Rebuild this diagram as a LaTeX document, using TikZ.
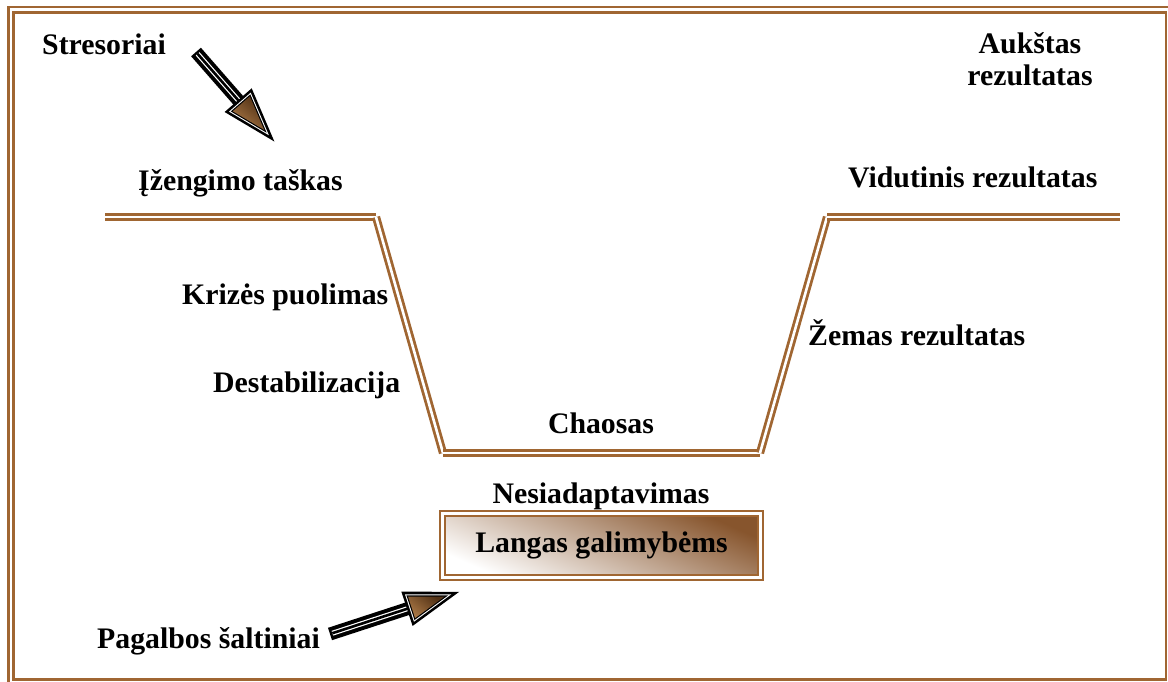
\documentclass[tikz,border=0pt]{standalone}
\usepackage{fontspec}
\setmainfont{Liberation Serif}
\definecolor{frameb}{RGB}{160,102,50}
\definecolor{boxb}{RGB}{135,85,45}
\definecolor{headdark}{RGB}{80,48,20}
\definecolor{headlight}{RGB}{170,120,70}

% Decorated block arrow: #1 = tail coordinate, #2 = direction (deg), #3 = length
\newcommand{\blockarrow}[3]{%
  \begin{scope}[shift={(#1)}, rotate=#2]
    \pgfmathsetmacro{\aL}{#3}
    \pgfmathsetmacro{\aH}{55}
    \pgfmathsetmacro{\aB}{18}
    \pgfmathsetmacro{\aR}{\aB*\aH/(\aB+sqrt(\aH*\aH+\aB*\aB))}
    \pgfmathsetmacro{\aS}{\aL-\aH}
    % shaft: black band with a white rim inside and a dark core
    \fill[black] (0,-6.5) rectangle (\aS+3,6.5);
    \draw[white, line width=5pt] (2.5,0) -- (\aS+2,0);
    \draw[black, line width=2.6pt] (2.5,0) -- (\aS+2,0);
    % head, built from nested triangles
    \fill[black] (\aS,-\aB) -- (\aL,0) -- (\aS,\aB) -- cycle;
    \begin{scope}[shift={(\aS+\aR,0)}, scale=0.80]
      \fill[white] (-\aR,-\aB) -- (\aH-\aR,0) -- (-\aR,\aB) -- cycle;
    \end{scope}
    \begin{scope}[shift={(\aS+\aR,0)}, scale=0.72]
      \fill[black] (-\aR,-\aB) -- (\aH-\aR,0) -- (-\aR,\aB) -- cycle;
    \end{scope}
    \begin{scope}[shift={(\aS+\aR,0)}, scale=0.63]
      \shade[top color=headdark, bottom color=headlight, shading angle=-40]
        (-\aR,-\aB) -- (\aH-\aR,0) -- (-\aR,\aB) -- cycle;
    \end{scope}
  \end{scope}}

\begin{document}
\begin{tikzpicture}[x=1pt, y=-1pt,
    lbl/.style={font=\fontsize{29.8}{32}\selectfont\bfseries, inner sep=0pt},
    dline/.style={draw=frameb, double=white, line width=2.8pt, double distance=2.6pt},
    windowbox/.style={lbl, draw=frameb, double=white, line width=2.2pt, double distance=2.5pt,
      minimum width=318pt, minimum height=64pt,
      top color=boxb, middle color=boxb!10!white, bottom color=white, shading angle=-24}]
  \useasboundingbox (0,0) rectangle (1168,681);

  % outer frame
  \draw[dline] (10.8,9.7) rectangle (1168.7,682.3);

  % the trough curve
  \coordinate (p1) at (105,217);
  \coordinate (p2) at (376,217);
  \coordinate (p3) at (443,453);
  \coordinate (p4) at (760,453);
  \coordinate (p5) at (827,217);
  \coordinate (p6) at (1120,217);
  \draw[dline] (p1) -- (p2);
  \draw[dline] (p2) -- (p3);
  \draw[dline] (p3) -- (p4);
  \draw[dline] (p4) -- (p5);
  \draw[dline] (p5) -- (p6);

  % labels
  \node[lbl, anchor=base west] (stress) at (42,54) {Stresoriai};
  \node[lbl, anchor=base, align=center] (high) at (1030,85) {Aukštas\\rezultatas};
  \node[lbl, anchor=base west] (entry) at (138,190) {Įžengimo taškas};
  \node[lbl, anchor=base west] (mid) at (848,187) {Vidutinis rezultatas};
  \node[lbl, anchor=base west] (crisis) at (182,304) {Krizės puolimas};
  \node[lbl, anchor=base west] (destab) at (213,392) {Destabilizacija};
  \node[lbl, anchor=base west] (low) at (808,345) {Žemas rezultatas};
  \node[lbl, anchor=base] (chaos) at (601,433) {Chaosas};
  \node[lbl, anchor=base] (nonad) at (601,503) {Nesiadaptavimas};
  \node[windowbox] (win) at (601.5,545.5) {Langas galimybėms};
  \node[lbl, anchor=base west] (help) at (97,648) {Pagalbos šaltiniai};

  % arrows
  \coordinate (a1tail) at (196,52);
  \coordinate (a2tail) at (330,634);
  \blockarrow{a1tail}{-48.8}{119}
  \blockarrow{a2tail}{18.1}{136}
\end{tikzpicture}
\end{document}
